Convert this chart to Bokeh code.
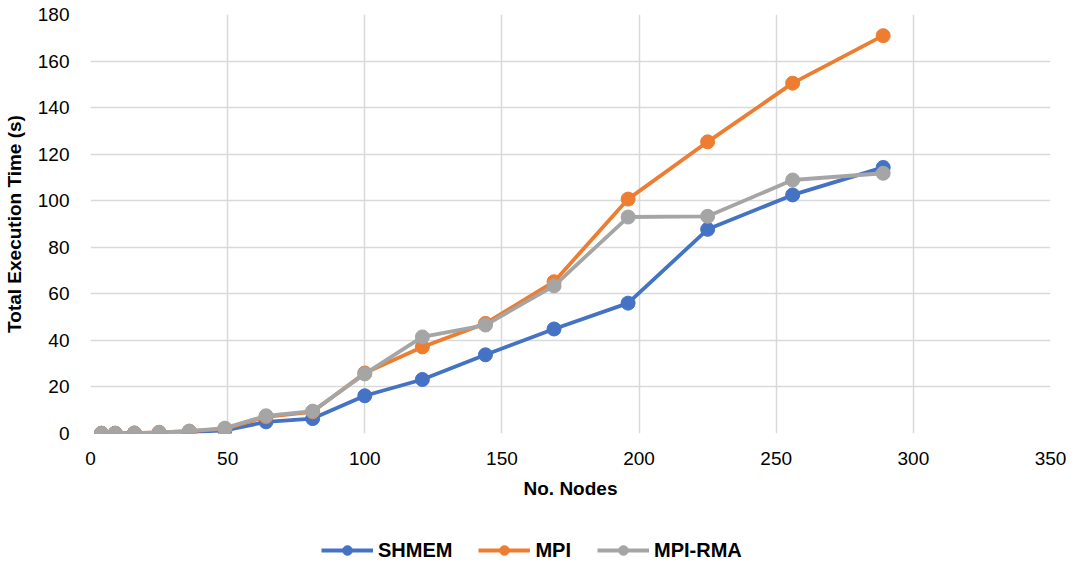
from bokeh.plotting import figure
from bokeh.layouts import column
from bokeh.models import Range1d, Legend, LegendItem, FixedTicker
from bokeh.embed import file_html
from bokeh.resources import INLINE

nodes = [4, 9, 16, 25, 36, 49, 64, 81, 100, 121, 144, 169, 196, 225, 256, 289]
shmem = [0.1, 0.1, 0.1, 0.3, 0.6, 1.3, 5.0, 6.4, 16.2, 23.2, 33.8, 44.9, 56.0, 87.7, 102.5, 114.3]
mpi = [0.1, 0.1, 0.2, 0.5, 1.0, 2.0, 7.2, 9.3, 26.0, 37.2, 47.3, 65.2, 100.7, 125.3, 150.5, 170.9]
mpi_rma = [0.1, 0.1, 0.2, 0.5, 1.0, 2.3, 7.6, 9.6, 25.6, 41.5, 46.6, 63.4, 93.0, 93.3, 108.9, 111.8]
series_names = ["SHMEM", "MPI", "MPI-RMA"]
colors = ["#4472C4", "#ED7D31", "#A5A5A5"]
x_ticks = [0, 50, 100, 150, 200, 250, 300, 350]
y_ticks = [0, 20, 40, 60, 80, 100, 120, 140, 160, 180]

FONT = "Liberation Sans"

p = figure(width=1076, height=510, output_backend="svg", toolbar_location=None,
           x_range=Range1d(0, 350), y_range=Range1d(0, 180),
           min_border_left=90, min_border_right=26, min_border_top=14, min_border_bottom=77)
p.outline_line_color = None
p.background_fill_color = "white"
p.border_fill_color = "white"

p.xaxis.ticker = FixedTicker(ticks=x_ticks)
p.yaxis.ticker = FixedTicker(ticks=y_ticks)
for ax in (p.xaxis[0], p.yaxis[0]):
    ax.axis_line_color = None
    ax.major_tick_line_color = None
    ax.minor_tick_line_color = None
    ax.major_label_text_font = FONT
    ax.major_label_text_font_size = "19px"
    ax.major_label_text_color = "#000000"
    ax.axis_label_text_font = FONT
    ax.axis_label_text_font_size = "19px"
    ax.axis_label_text_font_style = "bold"
    ax.axis_label_text_color = "#000000"
p.xaxis.axis_label = "No. Nodes"
p.yaxis.axis_label = "Total Execution Time (s)"
p.xaxis.major_label_standoff = 12
p.xaxis.axis_label_standoff = 10
p.yaxis.major_label_standoff = 15
p.yaxis.axis_label_standoff = 10

p.xgrid.ticker = FixedTicker(ticks=x_ticks)
p.ygrid.ticker = FixedTicker(ticks=y_ticks)
p.grid.grid_line_color = "#D9D9D9"
p.grid.grid_line_width = 1.5

for ys, c in zip([shmem, mpi, mpi_rma], colors):
    p.line(nodes, ys, line_color=c, line_width=3.8)
    p.scatter(nodes, ys, size=14, fill_color=c, line_color=c)

# legend strip below the chart (its renderers fall outside its tiny range, so only the legend shows)
lg = figure(width=1076, height=59, output_backend="svg", toolbar_location=None,
            x_range=Range1d(0, 1), y_range=Range1d(0, 1),
            x_axis_location=None, y_axis_location=None,
            min_border_left=0, min_border_right=0, min_border_top=0, min_border_bottom=0)
lg.outline_line_color = None
lg.xgrid.visible = False
lg.ygrid.visible = False
items = []
for name, ys, c in zip(series_names, [shmem, mpi, mpi_rma], colors):
    l = lg.line(nodes, ys, line_color=c, line_width=3.8)
    s = lg.scatter(nodes, ys, size=14, fill_color=c, line_color=c)
    items.append(LegendItem(label=name, renderers=[l, s]))
legend = Legend(items=items, orientation="horizontal", location=(231, 7),
                label_text_font=FONT, label_text_font_size="20px",
                label_text_font_style="bold", label_text_color="#000000",
                glyph_width=52, glyph_height=24, label_standoff=5, spacing=26,
                padding=0, margin=0, border_line_color=None, background_fill_alpha=0)
lg.add_layout(legend, "center")

layout = column(p, lg, spacing=0)
open("out.html", "w").write(file_html(layout, INLINE))
